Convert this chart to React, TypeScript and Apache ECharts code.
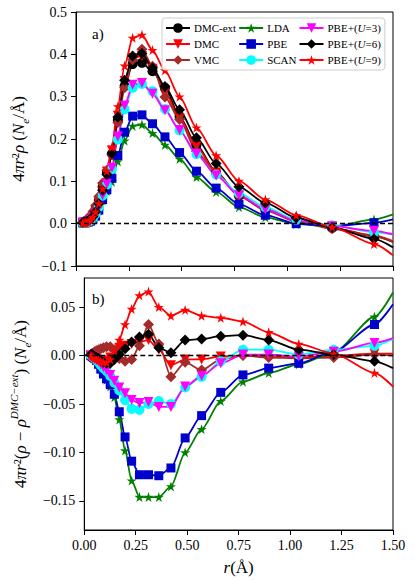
import React, { useEffect, useRef } from 'react';
import * as echarts from 'echarts';

// radial grid (Å); last point is the curve end without a marker
const rGrid = [0.032, 0.038, 0.044, 0.051, 0.059, 0.069, 0.080, 0.093, 0.108, 0.126, 0.146, 0.170, 0.198, 0.230, 0.268, 0.312, 0.362, 0.421, 0.490, 0.570, 0.663, 0.771, 0.896, 1.042, 1.212, 1.410, 1.5];

// panel a) 4πr²ρ
const dmcExtA = [0.002, 0.003, 0.004, 0.006, 0.009, 0.014, 0.022, 0.035, 0.055, 0.087, 0.120, 0.165, 0.245, 0.325, 0.377, 0.380, 0.360, 0.321, 0.253, 0.186, 0.122, 0.066, 0.033, 0.008, -0.010, -0.030, -0.043];
const dmcA = [0.002, 0.002, 0.002, 0.003, 0.005, 0.009, 0.016, 0.029, 0.050, 0.085, 0.123, 0.173, 0.255, 0.337, 0.391, 0.396, 0.366, 0.311, 0.249, 0.182, 0.121, 0.066, 0.033, 0.006, -0.010, -0.028, -0.041];
const vmcA = [0.003, 0.005, 0.007, 0.010, 0.014, 0.020, 0.029, 0.043, 0.064, 0.096, 0.126, 0.162, 0.239, 0.321, 0.387, 0.412, 0.372, 0.299, 0.246, 0.171, 0.118, 0.066, 0.031, 0.005, -0.012, -0.029, -0.043];
const ldaA = [0.002, 0.002, 0.002, 0.003, 0.004, 0.006, 0.010, 0.018, 0.031, 0.055, 0.077, 0.099, 0.147, 0.196, 0.231, 0.234, 0.214, 0.186, 0.153, 0.110, 0.075, 0.039, 0.015, -0.001, -0.007, 0.010, 0.022];
const pbeA = [0.002, 0.002, 0.002, 0.003, 0.004, 0.006, 0.010, 0.018, 0.032, 0.057, 0.080, 0.107, 0.161, 0.216, 0.254, 0.257, 0.236, 0.205, 0.168, 0.124, 0.084, 0.046, 0.020, 0.000, -0.006, 0.002, 0.010];
const scanA = [0.002, 0.002, 0.002, 0.003, 0.004, 0.007, 0.013, 0.023, 0.039, 0.066, 0.092, 0.129, 0.199, 0.270, 0.321, 0.330, 0.313, 0.271, 0.220, 0.164, 0.116, 0.072, 0.039, 0.009, -0.004, -0.020, -0.026];
const u3A = [0.002, 0.002, 0.002, 0.003, 0.005, 0.008, 0.014, 0.024, 0.040, 0.067, 0.094, 0.132, 0.206, 0.279, 0.328, 0.332, 0.307, 0.268, 0.221, 0.165, 0.114, 0.067, 0.034, 0.007, -0.006, -0.017, -0.025];
const u6A = [0.003, 0.004, 0.004, 0.005, 0.007, 0.011, 0.017, 0.028, 0.047, 0.079, 0.116, 0.166, 0.252, 0.339, 0.396, 0.402, 0.368, 0.324, 0.269, 0.203, 0.142, 0.087, 0.049, 0.014, -0.009, -0.036, -0.056];
const u9A = [0.002, 0.002, 0.002, 0.003, 0.005, 0.009, 0.016, 0.028, 0.048, 0.083, 0.125, 0.181, 0.277, 0.373, 0.439, 0.446, 0.410, 0.362, 0.300, 0.227, 0.161, 0.101, 0.057, 0.020, -0.008, -0.048, -0.075];

// panel b) 4πr²(ρ − ρ_DMC-ext)
const dmcB = [0, -0.001, -0.002, -0.003, -0.004, -0.005, -0.006, -0.006, -0.005, -0.002, 0.003, 0.008, 0.010, 0.012, 0.014, 0.016, 0.006, -0.010, -0.004, -0.004, -0.001, 0, 0, -0.002, 0, 0.002, 0.002];
const vmcB = [0.001, 0.002, 0.003, 0.004, 0.005, 0.006, 0.007, 0.008, 0.009, 0.009, 0.006, -0.003, -0.006, -0.004, 0.010, 0.032, 0.012, -0.022, -0.007, -0.015, -0.004, 0, -0.002, -0.003, -0.002, 0.001, 0];
const ldaB = [0, -0.001, -0.002, -0.003, -0.005, -0.009, -0.014, -0.019, -0.025, -0.032, -0.043, -0.066, -0.098, -0.129, -0.146, -0.146, -0.146, -0.135, -0.100, -0.076, -0.047, -0.027, -0.018, -0.009, 0.003, 0.040, 0.065];
const pbeB = [0, -0.001, -0.002, -0.003, -0.005, -0.009, -0.014, -0.019, -0.024, -0.030, -0.040, -0.058, -0.084, -0.109, -0.123, -0.123, -0.124, -0.116, -0.085, -0.062, -0.038, -0.020, -0.013, -0.008, 0.004, 0.032, 0.053];
const scanB = [0, -0.001, -0.002, -0.003, -0.005, -0.007, -0.010, -0.013, -0.016, -0.021, -0.028, -0.036, -0.046, -0.055, -0.056, -0.050, -0.047, -0.050, -0.033, -0.022, -0.006, 0.006, 0.006, 0.001, 0.006, 0.010, 0.017];
const u3B = [0, -0.001, -0.002, -0.003, -0.004, -0.006, -0.009, -0.012, -0.015, -0.020, -0.026, -0.033, -0.039, -0.046, -0.049, -0.048, -0.053, -0.053, -0.032, -0.021, -0.008, 0.001, 0.001, -0.001, 0.004, 0.013, 0.018];
const u6B = [0.001, 0.001, 0, -0.001, -0.002, -0.003, -0.005, -0.007, -0.008, -0.008, -0.004, 0.001, 0.007, 0.014, 0.019, 0.022, 0.008, 0.003, 0.016, 0.017, 0.020, 0.021, 0.016, 0.006, 0.001, -0.006, -0.013];
const u9B = [0, -0.001, -0.002, -0.003, -0.004, -0.005, -0.006, -0.007, -0.007, -0.004, 0.005, 0.016, 0.032, 0.048, 0.062, 0.066, 0.050, 0.041, 0.047, 0.041, 0.039, 0.035, 0.024, 0.012, 0.002, -0.018, -0.032];

const xTicks = [0, 0.25, 0.5, 0.75, 1.0, 1.25, 1.5];
const yTicksA = [-0.1, 0, 0.1, 0.2, 0.3, 0.4, 0.5];
const yTicksB = [-0.15, -0.10, -0.05, 0, 0.05];

const FONT = 'Liberation Serif';
const STAR = 'path://M0,-10L2.245,-3.09L9.511,-3.09L3.633,1.18L5.878,8.09L0,3.82L-5.878,8.09L-3.633,1.18L-9.511,-3.09L-2.245,-3.09Z';

type Spec = { name: string; color: string; symbol: string; size: number; rotate?: number };
const specs: Record<string, Spec> = {
  dmcExt: { name: 'DMC-ext', color: '#000000', symbol: 'circle', size: 10 },
  dmc: { name: 'DMC', color: '#ff0000', symbol: 'triangle', size: 10, rotate: 180 },
  vmc: { name: 'VMC', color: '#a52a2a', symbol: 'diamond', size: 11 },
  lda: { name: 'LDA', color: '#008000', symbol: STAR, size: 10 },
  pbe: { name: 'PBE', color: '#0000cd', symbol: 'rect', size: 9 },
  scan: { name: 'SCAN', color: '#00ffff', symbol: 'circle', size: 10 },
  u3: { name: 'PBE+(U=3)', color: '#ff00ff', symbol: 'triangle', size: 10, rotate: 180 },
  u6: { name: 'PBE+(U=6)', color: '#000000', symbol: 'diamond', size: 11 },
  u9: { name: 'PBE+(U=9)', color: '#ff0000', symbol: STAR, size: 10 },
};

const fmt = (d: number) => (v: number) => {
  const s = Math.abs(v) < 1e-9 ? (0).toFixed(d) : v.toFixed(d);
  return s.replace('-', '\u2212');
};

function mk(key: string, ys: number[], panel: number, zeroLine = false) {
  const sp = specs[key];
  const last = rGrid.length - 1;
  const s: any = {
    type: 'line',
    name: sp.name,
    xAxisIndex: panel,
    yAxisIndex: panel,
    symbol: sp.symbol,
    symbolSize: sp.size,
    symbolRotate: sp.rotate || 0,
    smooth: 0.25,
    smoothMonotone: 'x',
    lineStyle: { color: sp.color, width: 1.8 },
    itemStyle: { color: sp.color, borderWidth: 0 },
    emphasis: { disabled: true },
    data: rGrid.map((r, i) => (i === last ? { value: [r, ys[i]], symbol: 'none' } : { value: [r, ys[i]] })),
  };
  if (zeroLine) {
    s.markLine = {
      silent: true,
      symbol: 'none',
      label: { show: false },
      lineStyle: { color: '#000', type: [5, 3], width: 1.4 },
      data: [{ yAxis: 0 }],
    };
  }
  return s;
}

const richBase = {
  n: { fontSize: 17, fontFamily: FONT, color: '#000', lineHeight: 24 },
  i: { fontSize: 17, fontFamily: FONT, fontStyle: 'italic', color: '#000', lineHeight: 24 },
  s: { fontSize: 11, fontFamily: FONT, fontStyle: 'italic', color: '#000', lineHeight: 15, verticalAlign: 'bottom' },
  p: { fontSize: 11, fontFamily: FONT, fontStyle: 'italic', color: '#000', lineHeight: 12, verticalAlign: 'top' },
};

function xAxisCfg(grid: number, labels: boolean): any {
  return {
    type: 'value',
    gridIndex: grid,
    min: 0,
    max: 1.5,
    interval: 0.25,
    axisLine: { show: true, onZero: false, lineStyle: { color: '#000', width: 1 } },
    axisTick: { show: true, inside: false, length: 5, lineStyle: { color: '#000', width: 1 } },
    splitLine: { show: false },
    axisLabel: {
      show: labels,
      margin: 8,
      fontSize: 14,
      fontFamily: FONT,
      color: '#000',
      customValues: xTicks,
      formatter: fmt(2),
    },
    ...(labels
      ? {
          name: '{i|r}{n|(Å)}',
          nameLocation: 'middle',
          nameGap: 25,
          nameTextStyle: { fontSize: 17, rich: richBase },
        }
      : {}),
  };
}

const option: any = {
  animation: false,
  backgroundColor: '#ffffff',
  textStyle: { fontFamily: FONT },
  grid: [
    { left: 76, top: 12, width: 317, height: 254, show: true, borderColor: '#000', borderWidth: 1, backgroundColor: 'transparent' },
    { left: 76, top: 278, width: 317, height: 252, show: true, borderColor: '#000', borderWidth: 1, backgroundColor: 'transparent' },
  ],
  xAxis: [xAxisCfg(0, false), xAxisCfg(1, true)],
  yAxis: [
    {
      type: 'value',
      gridIndex: 0,
      min: -0.1,
      max: 0.5,
      interval: 0.1,
      axisLine: { show: true, onZero: false, lineStyle: { color: '#000', width: 1 } },
      axisTick: { show: true, inside: false, length: 5, lineStyle: { color: '#000', width: 1 }, customValues: yTicksA },
      splitLine: { show: false },
      axisLabel: { margin: 9, fontSize: 14, fontFamily: FONT, color: '#000', customValues: yTicksA, formatter: fmt(1) },
      name: '{n|4}{i|πr}{n|²}{i|ρ} {n|(}{i|N}{s|e}{n|/Å)}',
      nameLocation: 'middle',
      nameGap: 43,
      nameTextStyle: { fontSize: 17, rich: richBase },
    },
    {
      type: 'value',
      gridIndex: 1,
      min: -0.18,
      max: 0.08,
      axisLine: { show: true, onZero: false, lineStyle: { color: '#000', width: 1 } },
      axisTick: { show: true, inside: false, length: 5, lineStyle: { color: '#000', width: 1 }, customValues: yTicksB },
      splitLine: { show: false },
      axisLabel: { margin: 9, fontSize: 14, fontFamily: FONT, color: '#000', customValues: yTicksB, formatter: fmt(2) },
      name: '{n|4}{i|πr}{n|²(}{i|ρ}{n| − }{i|ρ}{p|DMC−ext}{n|) (}{i|N}{s|e}{n|/Å)}',
      nameLocation: 'middle',
      nameGap: 43,
      nameTextStyle: { fontSize: 17, rich: richBase },
    },
  ],
  legend: {
    orient: 'vertical',
    left: 162,
    top: 18,
    height: 46,
    padding: [3, 4, 3, 3],
    itemGap: 2,
    itemWidth: 24,
    itemHeight: 12,
    selectedMode: false,
    borderColor: '#cccccc',
    borderWidth: 1,
    borderRadius: 3,
    backgroundColor: 'rgba(255,255,255,0.85)',
    textStyle: {
      fontFamily: FONT,
      fontSize: 11,
      color: '#000',
      lineHeight: 14,
      padding: [0, 0, 0, -1],
      rich: { i: { fontFamily: FONT, fontSize: 11, fontStyle: 'italic', color: '#000' } },
    },
    formatter: (n: string) => n.replace(/U=(\d)/, '{i|U}=$1'),
    data: ['DMC-ext', 'DMC', 'VMC', 'LDA', 'PBE', 'SCAN', 'PBE+(U=3)', 'PBE+(U=6)', 'PBE+(U=9)'],
  },
  graphic: [
    { type: 'text', left: 92, top: 26, style: { text: 'a)', font: '15px "Liberation Serif"', fill: '#000' } },
    { type: 'text', left: 92, top: 291, style: { text: 'b)', font: '15px "Liberation Serif"', fill: '#000' } },
  ],
  series: [
    mk('dmcExt', dmcExtA, 0, true),
    mk('dmc', dmcA, 0),
    mk('vmc', vmcA, 0),
    mk('lda', ldaA, 0),
    mk('pbe', pbeA, 0),
    mk('scan', scanA, 0),
    mk('u3', u3A, 0),
    mk('u6', u6A, 0),
    mk('u9', u9A, 0),
    mk('dmc', dmcB, 1, true),
    mk('vmc', vmcB, 1),
    mk('lda', ldaB, 1),
    mk('pbe', pbeB, 1),
    mk('scan', scanB, 1),
    mk('u3', u3B, 1),
    mk('u6', u6B, 1),
    mk('u9', u9B, 1),
  ],
};

export default function App() {
  const ref = useRef<HTMLDivElement>(null);
  useEffect(() => {
    if (!ref.current) return;
    const chart = echarts.init(ref.current, null, { renderer: 'svg' });
    chart.setOption(option);
    return () => chart.dispose();
  }, []);
  return (
    <div
      ref={ref}
      style={{ position: 'fixed', left: 0, top: 0, width: 415, height: 581, background: '#fff' }}
    />
  );
}
